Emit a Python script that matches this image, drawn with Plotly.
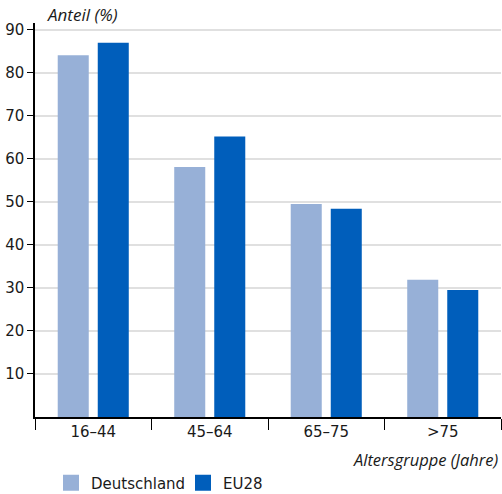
import plotly.graph_objects as go

categories = ["16–44", "45–64", "65–75", ">75"]
deutschland = [84.1, 58.1, 49.5, 31.9]
eu28 = [87.0, 65.2, 48.4, 29.5]
y_ticks = [10, 20, 30, 40, 50, 60, 70, 80, 90]
series = [("Deutschland", deutschland, "#97b0d7"), ("EU28", eu28, "#005ebb")]

FONT = "DejaVu Sans"
IFONT = "Open Sans"
TXT = "#1a1a1a"

fig = go.Figure()
for name, vals, col in series:
    fig.add_trace(go.Bar(name=name, x=categories, y=vals, showlegend=False,
                         marker=dict(color=col, line=dict(width=0))))
for name, vals, col in series:
    # legend entry with a larger square swatch
    fig.add_trace(go.Scatter(name=name, x=[None], y=[None], mode="markers",
                             marker=dict(symbol="square", size=16, color=col,
                                         line=dict(width=0)),
                             showlegend=True, hoverinfo="skip"))

fig.update_layout(
    width=502, height=494,
    margin=dict(l=35, r=1, t=23, b=77, autoexpand=False),
    paper_bgcolor="white", plot_bgcolor="white",
    barmode="group", bargap=0.313, bargroupgap=0.225,
    font=dict(family=FONT, size=14, color=TXT),
    showlegend=True,
    legend=dict(orientation="h", x=(51 - 35) / 466, xanchor="left",
                y=-(483 - 417) / 394, yanchor="middle",
                font=dict(size=15, color=TXT, family=FONT), entrywidth=87,
                entrywidthmode="pixels", traceorder="normal", itemsizing="trace"),
)
fig.update_xaxes(
    type="category", tickson="boundaries", ticks="outside", ticklen=11,
    tickwidth=1.2, tickcolor="black", showline=True, linecolor="black", linewidth=1.5,
    showgrid=False, tickfont=dict(size=15, color=TXT), fixedrange=True,
)
fig.update_yaxes(
    range=[0, 91.6], tickvals=y_ticks, ticks="outside", ticklen=6, tickwidth=1.2,
    tickcolor="black", showline=True, linecolor="black", linewidth=1.5,
    showgrid=True, gridcolor="#e0e0e0", gridwidth=2, zeroline=False,
    tickfont=dict(size=15, color=TXT), fixedrange=True,
)
fig.add_annotation(text="<i>Anteil (%)</i>", xref="paper", yref="paper",
                   x=(45 - 35) / 466, y=1, yshift=9, xanchor="left", yanchor="middle",
                   showarrow=False, font=dict(size=17, color=TXT, family=IFONT))
fig.add_annotation(text="<i>Altersgruppe (Jahre)</i>", xref="paper", yref="paper",
                   x=1, y=0, yshift=-42, xanchor="right", yanchor="middle",
                   showarrow=False, font=dict(size=16.5, color=TXT, family=IFONT))

fig.write_html("out.html", config={"displayModeBar": False},
               post_script="document.body.style.margin='0';")
